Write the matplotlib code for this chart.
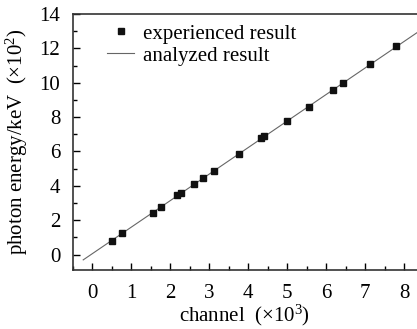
import matplotlib
matplotlib.use('Agg')
import matplotlib.pyplot as plt
from matplotlib.ticker import MultipleLocator

# channel (x10^3) and photon energy (x10^2 keV)
canal = [0.50, 0.76, 1.55, 1.76, 2.18, 2.27, 2.62, 2.83, 3.12, 3.76,
         4.33, 4.41, 4.99, 5.55, 6.18, 6.44, 7.13, 7.79]
energia = [0.81, 1.24, 2.43, 2.75, 3.44, 3.56, 4.10, 4.45, 4.85, 5.84,
           6.76, 6.88, 7.75, 8.60, 9.57, 9.98, 11.10, 12.12]

# analyzed result (fitted line end points)
reta_x = [-0.23, 8.45]
reta_y = [-0.31, 13.10]

plt.rcParams['font.family'] = ['Liberation Serif', 'DejaVu Serif']
plt.rcParams['mathtext.fontset'] = 'custom'
plt.rcParams['mathtext.rm'] = 'Liberation Serif'
plt.rcParams['mathtext.it'] = 'Liberation Serif:italic'

fig = plt.figure(figsize=(4.17, 3.29), dpi=100)
ax = fig.add_axes([0.1743, 0.1793, 0.8257, 0.7781])

ax.plot(canal, energia, 's', color='#111111', markersize=4.3, label='experienced result', zorder=3)
ax.plot(reta_x, reta_y, '-', color='#666666', lw=0.8, label='analyzed result')

ax.set_xlim(-0.5, 8.33)
ax.set_ylim(-0.9, 14.0)
ax.xaxis.set_major_locator(MultipleLocator(1))
ax.xaxis.set_minor_locator(MultipleLocator(0.5))
ax.yaxis.set_major_locator(MultipleLocator(2))
ax.yaxis.set_minor_locator(MultipleLocator(1))
ax.tick_params(which='both', direction='in', labelsize=15, width=1.0, pad=9)
ax.tick_params(which='major', length=5)
ax.tick_params(which='minor', length=3)
ax.tick_params(axis='x', pad=10)
ax.spines['right'].set_visible(False)
for s in ['left', 'bottom', 'top']:
    ax.spines[s].set_linewidth(1.2)
    ax.spines[s].set_color('#333333')

ax.set_xlabel('channel  (\u00d710$^3$)', fontsize=15, labelpad=0)
ax.set_ylabel('photon energy/keV  (\u00d710$^2$)', fontsize=15, labelpad=7)

ax.legend(loc='upper left', bbox_to_anchor=(0.064, 1.01), frameon=False, fontsize=15,
          handlelength=1.3, handletextpad=0.4, labelspacing=0.12, borderaxespad=0.2)

fig.savefig('out.png', dpi=100)
